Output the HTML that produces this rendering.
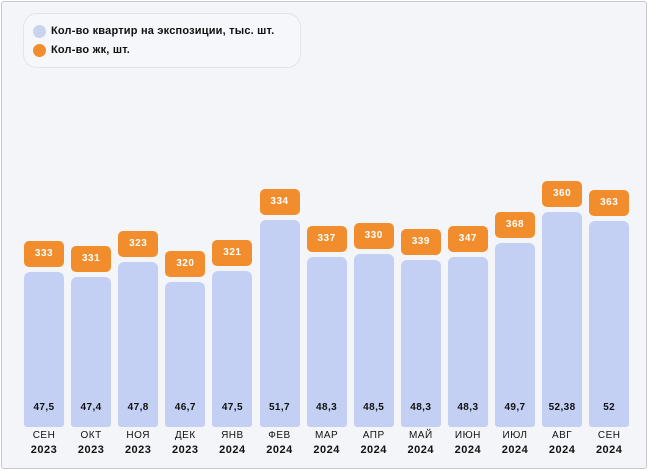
<!DOCTYPE html>
<html><head><meta charset="utf-8"><style>
html,body{margin:0;padding:0;background:#fff;}
#c{position:relative;width:650px;height:471px;overflow:hidden;background:#fff;font-family:"Liberation Sans",sans-serif;}
#f{position:absolute;left:1px;top:1px;width:644px;height:466px;background:#f4f5f8;border:1px solid #c8c8cc;border-radius:3px;}
.lg{position:absolute;left:23px;top:13px;width:276px;height:53px;border:1px solid #e2e4ec;border-radius:14px;background:#f6f7fa;}
.dot{position:absolute;width:13px;height:13px;border-radius:50%;}
.lt{position:absolute;font-size:11px;font-weight:bold;color:#111;letter-spacing:0.2px;}
.bar{position:absolute;width:40px;background:#c3d0f3;border-radius:6px 6px 3px 3px;}
.box{position:absolute;width:40px;height:26px;background:#f18d2c;border-radius:5px;color:#fff;font-size:10px;font-weight:bold;text-align:center;line-height:26px;letter-spacing:0.5px;}
.v{position:absolute;width:40px;text-align:center;font-size:10px;font-weight:bold;color:#111;top:402px;letter-spacing:0.4px;}
.m{position:absolute;width:50px;text-align:center;font-size:10px;color:#111;line-height:14px;top:429px;letter-spacing:0.5px;}
.m b{font-size:11px;}
</style></head><body><div id="c"><div id="f"></div>
<div class="lg"></div>
<div class="dot" style="left:33px;top:25px;background:#c8d3ee"></div>
<div class="dot" style="left:33px;top:44px;background:#f18d2c"></div>
<div class="lt" style="left:51px;top:25px">Кол-во квартир на экспозиции, тыс. шт.</div>
<div class="lt" style="left:51px;top:44px">Кол-во жк, шт.</div>
<div id="bars"></div>
</div>
<script>
var tops=[272,277,262,282,271,220,257,254,260,257,243,212,221];
var zk=["333","331","323","320","321","334","337","330","339","347","368","360","363"];
var vs=["47,5","47,4","47,8","46,7","47,5","51,7","48,3","48,5","48,3","48,3","49,7","52,38","52"];
var ms=["СЕН","ОКТ","НОЯ","ДЕК","ЯНВ","ФЕВ","МАР","АПР","МАЙ","ИЮН","ИЮЛ","АВГ","СЕН"];
var h="";
for(var i=0;i<13;i++){var x=24+i*47.1;var t=tops[i];
h+='<div class="bar" style="left:'+x+'px;top:'+t+'px;height:'+(427-t)+'px"></div>';
h+='<div class="box" style="left:'+x+'px;top:'+(t-31)+'px">'+zk[i]+'</div>';
h+='<div class="v" style="left:'+x+'px">'+vs[i]+'</div>';
h+='<div class="m" style="left:'+(x-5)+'px">'+ms[i]+'<br><b>'+(i<4?'2023':'2024')+'</b></div>';}
document.getElementById('bars').innerHTML=h;
</script></body></html>
